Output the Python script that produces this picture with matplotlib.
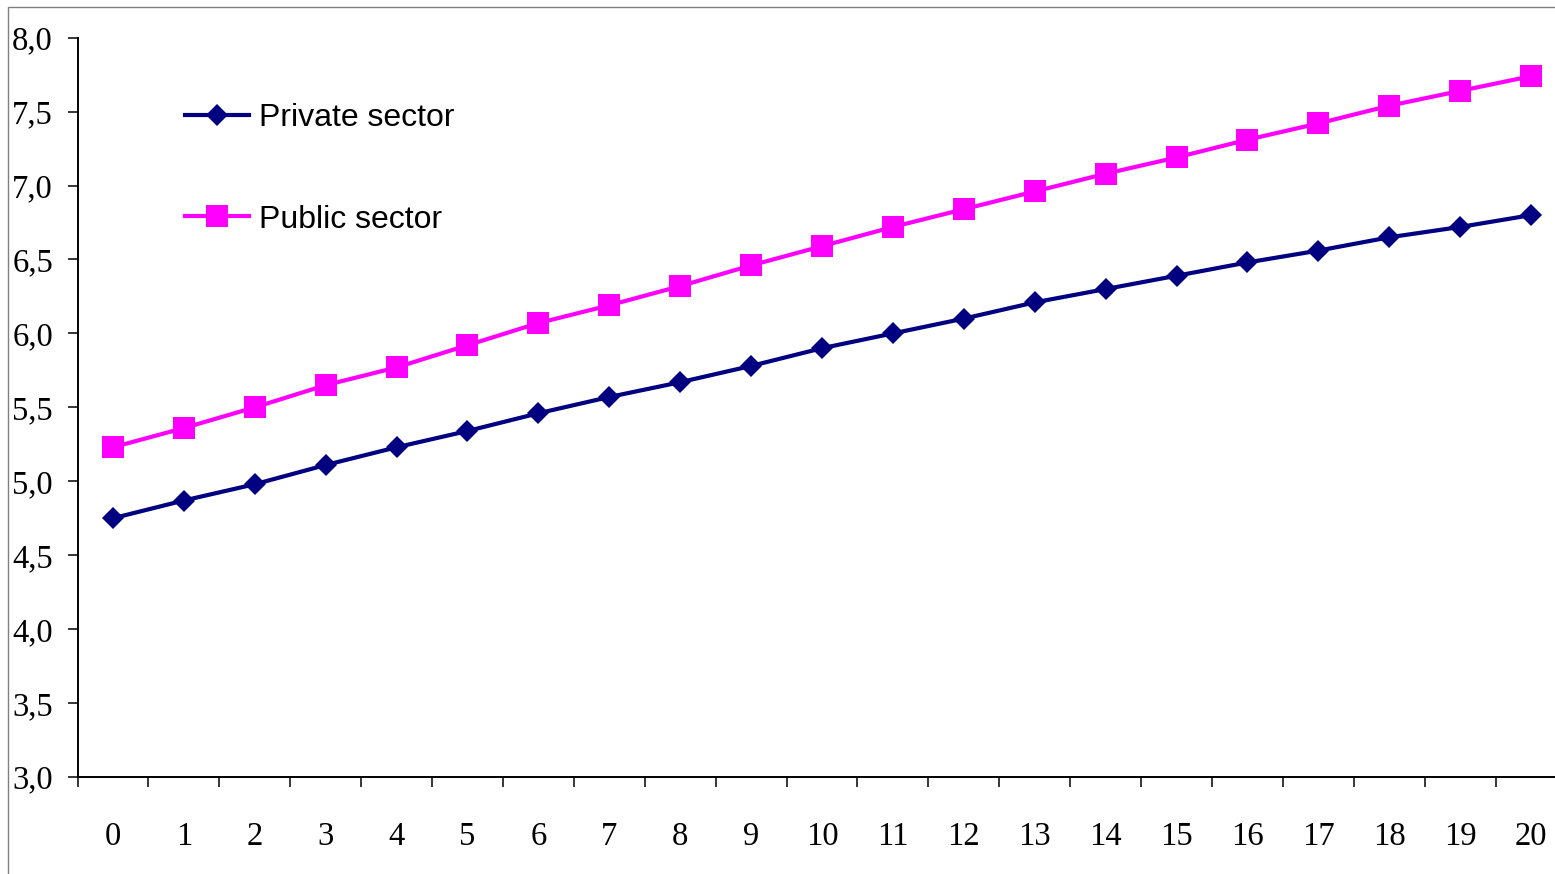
import matplotlib
matplotlib.use("Agg")
import matplotlib.pyplot as plt
from matplotlib.patches import Rectangle
from matplotlib.ticker import FixedLocator, FuncFormatter

# Data
years = list(range(0, 21))
private_sector = [4.75, 4.87, 4.98, 5.11, 5.23, 5.34, 5.46, 5.57, 5.67, 5.78, 5.90,
                  6.00, 6.10, 6.21, 6.30, 6.39, 6.48, 6.56, 6.65, 6.72, 6.80]
public_sector = [5.23, 5.36, 5.50, 5.65, 5.77, 5.92, 6.07, 6.19, 6.32, 6.46, 6.59,
                 6.72, 6.84, 6.96, 7.08, 7.19, 7.31, 7.42, 7.54, 7.64, 7.74]
y_ticks = [3.0, 3.5, 4.0, 4.5, 5.0, 5.5, 6.0, 6.5, 7.0, 7.5, 8.0]

W, H = 1555, 874
fig = plt.figure(figsize=(W / 100, H / 100), dpi=100)

# Plot area in pixel coordinates (extends past the right edge of the canvas)
left_px, right_px = 77.5, 1566.5
top_px, bottom_px = 37.7, 777.0
ax = fig.add_axes([left_px / W, 1 - bottom_px / H,
                   (right_px - left_px) / W, (bottom_px - top_px) / H])

# Outer chart frame
fig.patches.append(Rectangle((8.3 / W, -0.2), 1.5, 1 - 7 / H + 0.2,
                             transform=fig.transFigure, fill=False,
                             edgecolor="#808080", linewidth=1.0))

ax.plot(years, private_sector, color="#000080", lw=3, marker="D", ms=11.5,
        mew=0, label="Private sector", clip_on=False, zorder=3)
ax.plot(years, public_sector, color="#FF00FF", lw=3, marker="s", ms=15.5,
        mew=0, label="Public sector", clip_on=False, zorder=3)

ax.set_xlim(-0.5, 20.5)
ax.set_ylim(3.0, 8.0)

for side in ("top", "right"):
    ax.spines[side].set_visible(False)
for side in ("left", "bottom"):
    ax.spines[side].set_linewidth(1.4)

serif = "Liberation Serif"
ax.yaxis.set_major_locator(FixedLocator(y_ticks))
ax.yaxis.set_major_formatter(FuncFormatter(lambda v, p: f"{v:.1f}".replace(".", ",")))
ax.tick_params(axis="y", direction="out", length=7.2, width=1.1, pad=10.5,
               labelsize=23.5)
for t in ax.get_yticklabels():
    t.set_fontfamily(serif)

# Category labels at integer positions, tick marks at the category boundaries
ax.set_xticks(years)
ax.set_xticklabels([str(y) for y in years], fontfamily=serif, fontsize=23.5)
ax.tick_params(axis="x", which="major", length=0, pad=32)
ax.set_xticks([y - 0.5 for y in years] + [20.5], minor=True)
ax.tick_params(axis="x", which="minor", direction="out", length=7.2, width=1.1)

leg = ax.legend(loc="upper left",
                bbox_to_anchor=(107.5 / (right_px - left_px), 1 - 65 / (bottom_px - top_px)),
                frameon=False, prop={"family": "Liberation Sans", "size": 23},
                handlelength=2.0, handletextpad=0.31, labelspacing=2.25,
                borderaxespad=0, borderpad=0)

fig.savefig("out.png", dpi=100)
